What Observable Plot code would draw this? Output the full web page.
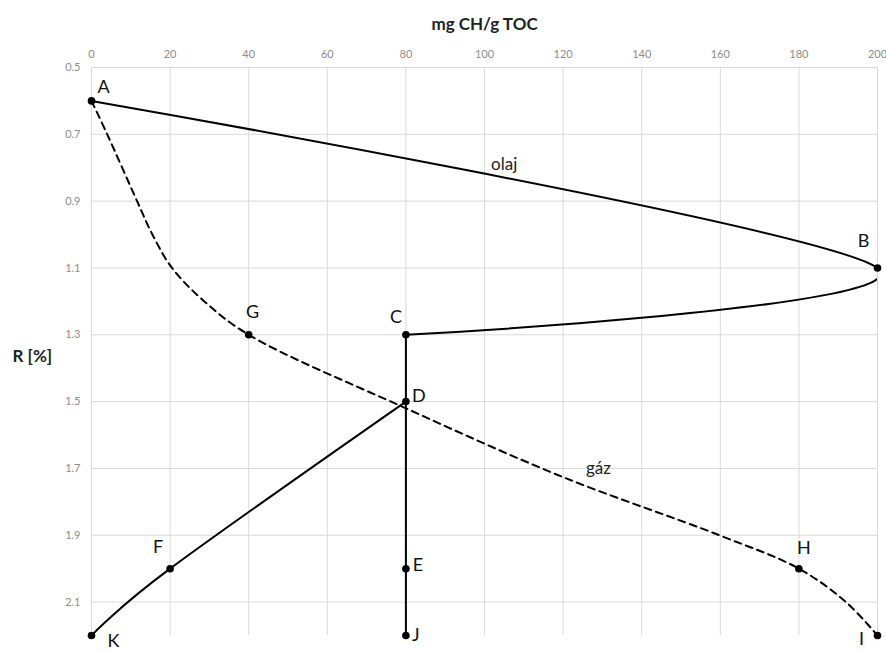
<!DOCTYPE html>
<html>
<head>
<meta charset="utf-8">
<script src="https://cdn.jsdelivr.net/npm/d3@7"></script>
<script src="https://cdn.jsdelivr.net/npm/@observablehq/plot@0.6"></script>
<style>
  html, body { margin: 0; padding: 0; background: #fff; }
  svg { overflow: visible; }
</style>
</head>
<body>
<div id="chart"></div>
<script>
// Named points
const pointLabels = ["A", "B", "C", "D", "E", "F", "G", "H", "I", "J", "K"];
const pointX = [0, 200, 80, 80, 80, 20, 40, 180, 200, 80, 0];
const pointY = [0.6, 1.1, 1.3, 1.5, 2.0, 2.0, 1.3, 2.0, 2.2, 2.2, 2.2];

// Oil curve (olaj): A -> B -> C (smoothed)
const oilX = [0, 200, 80];
const oilY = [0.6, 1.1, 1.3];

// Vertical line C -> D -> E -> J
const vertX = [80, 80, 80, 80];
const vertY = [1.3, 1.5, 2.0, 2.2];

// Branch D -> F -> K
const branchX = [80, 20, 0];
const branchY = [1.5, 2.0, 2.2];

// Gas curve (gáz), dashed: points (A ... G ... H, I)
const gasX = [0, 4, 11.6, 15.5, 20.5, 28.7, 40, 80, 120, 160, 180, 192, 200];
const gasY = [0.6, 0.7, 0.9, 1.0, 1.1, 1.2, 1.3, 1.52, 1.726, 1.901, 2.0, 2.1, 2.2];

// Curve labels
const curveNames = ["olaj", "gáz"];
const curveLabelX = [105, 129];
const curveLabelY = [0.79, 1.70];

// Axis ticks
const xTicks = [0, 20, 40, 60, 80, 100, 120, 140, 160, 180, 200];
const yTicks = [0.5, 0.7, 0.9, 1.1, 1.3, 1.5, 1.7, 1.9, 2.1];

const toRows = (xs, ys) => xs.map((x, i) => ({x, y: ys[i]}));
const points = pointLabels.map((l, i) => ({label: l, x: pointX[i], y: pointY[i]}));
const curveLabels = curveNames.map((n, i) => ({label: n, x: curveLabelX[i], y: curveLabelY[i]}));

// label offsets (px) relative to each point
const offs = {A: [12, -14], B: [-14, -27], C: [-10, -18], D: [13, -5], E: [12, -3],
              F: [-12, -21], G: [4, -23], H: [5, -20], I: [-16, 4], J: [10, 0], K: [22, 6]};

const font = "Lato, 'Open Sans', sans-serif";
const ink = "#000";

const chart = Plot.plot({
  width: 886,
  height: 651,
  marginLeft: 91,
  marginRight: 9,
  marginTop: 67,
  marginBottom: 16,
  style: {fontFamily: font, background: "#fff", overflow: "visible"},
  x: {domain: [0, 200]},
  y: {domain: [0.5, 2.2], reverse: true},
  marks: [
    Plot.gridX(xTicks, {stroke: "#d9d9d9", strokeOpacity: 1, strokeWidth: 1}),
    Plot.gridY(yTicks, {stroke: "#d9d9d9", strokeOpacity: 1, strokeWidth: 1}),
    Plot.axisX(xTicks, {anchor: "top", tickSize: 0, tickPadding: 10, label: null,
      fontSize: 11, fill: "#8c8c8c", tickFormat: d => String(d)}),
    Plot.axisY(yTicks, {anchor: "left", tickSize: 0, tickPadding: 11, label: null,
      fontSize: 11, fill: "#8c8c8c", tickFormat: d => String(d)}),
    Plot.text(["mg CH/g TOC"], {frameAnchor: "top", dy: -50, fontSize: 17, fontWeight: "bold", fill: "#222"}),
    Plot.text(["R [%]"], {y: [1.365], frameAnchor: "left", dx: -79, textAnchor: "start",
      fontSize: 17, fontWeight: "bold", fill: "#222"}),
    Plot.line(toRows(gasX, gasY), {x: "x", y: "y", curve: "catmull-rom", stroke: ink,
      strokeWidth: 2, strokeDasharray: "7,5", clip: true}),
    Plot.line(toRows(oilX, oilY), {x: "x", y: "y", curve: "cardinal", stroke: ink,
      strokeWidth: 2, clip: true}),
    Plot.line(toRows(vertX, vertY), {x: "x", y: "y", stroke: ink, strokeWidth: 2}),
    Plot.line(toRows(branchX, branchY), {x: "x", y: "y", curve: "cardinal", stroke: ink, strokeWidth: 2}),
    Plot.dot(points, {x: "x", y: "y", r: 3.8, fill: ink, stroke: "none"}),
    ...points.map(p => Plot.text([p], {x: "x", y: "y", text: "label", dx: offs[p.label][0], dy: offs[p.label][1],
      fontSize: 18, fill: "#111"})),
    Plot.text(curveLabels, {x: "x", y: "y", text: "label", fontSize: 17, fill: "#222"})
  ]
});
document.getElementById("chart").appendChild(chart);
</script>
</body>
</html>
